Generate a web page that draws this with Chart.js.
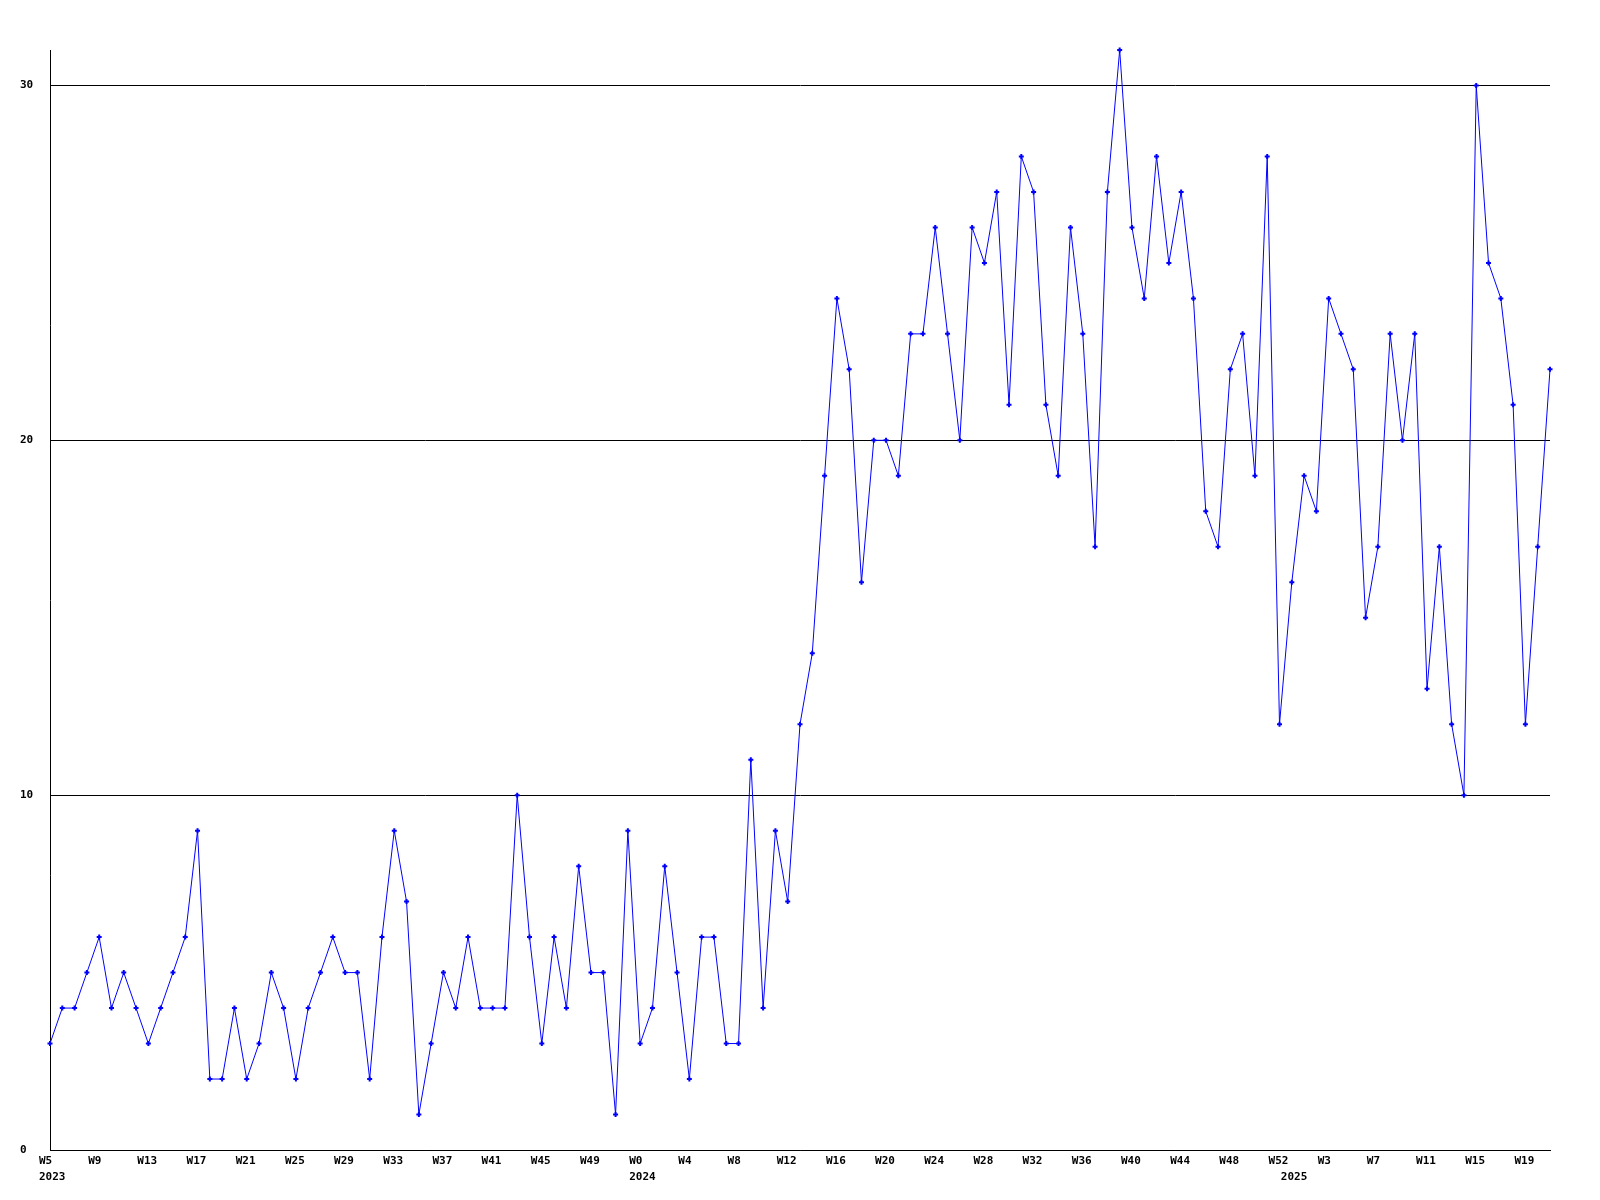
<!DOCTYPE html>
<html>
<head>
<meta charset="utf-8">
<script src="https://cdn.jsdelivr.net/npm/chart.js@4.4.1/dist/chart.umd.min.js"></script>
<style>
  html, body { margin: 0; padding: 0; background: #fff; }
  #wrap { width: 1600px; height: 1200px; position: relative; }
</style>
</head>
<body>
<div id="wrap"><canvas id="chart"></canvas></div>
<script>
// week ranges covered by the chart, one entry per year
const years = [2023, 2024, 2025];
const firstWeeks = [5, 0, 0];
const lastWeeks = [52, 52, 21];

// weekly counts, 2023 W5 .. 2025 W21
const counts = [
  3, 4, 4, 5, 6, 4, 5, 4, 3, 4, 5, 6, 9, 2, 2, 4, 2, 3, 5, 4, 2, 4, 5, 6, 5, 5, 2, 6, 9, 7, 1,
  3, 5, 4, 6, 4, 4, 4, 10, 6, 3, 6, 4, 8, 5, 5, 1, 9, 3, 4, 8, 5, 2, 6, 6, 3, 3, 11, 4, 9, 7,
  12, 14, 19, 24, 22, 16, 20, 20, 19, 23, 23, 26, 23, 20, 26, 25, 27, 21, 28, 27, 21, 19, 26, 23, 17, 27, 31, 26, 24, 28,
  25, 27, 24, 18, 17, 22, 23, 19, 28, 12, 16, 19, 18, 24, 23, 22, 15, 17, 23, 20, 23, 13, 17, 12, 10, 30, 25, 24, 21, 12, 17, 22,
];

const yTicks = [0, 10, 20, 30];
const LABEL_EVERY = 4;

const weeks = [];
years.forEach((year, k) => {
  for (let w = firstWeeks[k]; w <= lastWeeks[k]; w++) weeks.push({ year, week: w });
});
const labels = weeks.map((d) => d.year + '-W' + d.week);

const FONT = { family: "'DejaVu Sans Mono', monospace", size: 11, weight: 'bold', lineHeight: 16 / 11 };

function weekTick(value, index) {
  const d = weeks[index];
  const lines = [index % LABEL_EVERY === 0 ? 'W' + d.week : ''];
  if (index === 0 || weeks[index - 1].year !== d.year) lines.push(String(d.year));
  return lines.length > 1 ? lines : lines[0];
}

new Chart(document.getElementById('chart'), {
  type: 'line',
  data: {
    labels,
    datasets: [{
      data: counts,
      borderColor: '#0000ff',
      backgroundColor: '#0000ff',
      borderWidth: 1,
      tension: 0,
      fill: false,
      pointStyle: 'cross',
      pointRadius: 2.5,
      pointBorderWidth: 2,
      pointBorderColor: '#0000ff',
      clip: false,
    }],
  },
  options: {
    responsive: true,
    maintainAspectRatio: false,
    animation: false,
    layout: { padding: { top: 50, right: 50, left: 20, bottom: 0 } },
    plugins: {
      legend: { display: false },
      tooltip: { enabled: false },
    },
    scales: {
      x: {
        type: 'category',
        offset: false,
        grid: { display: false, drawTicks: false },
        border: { display: true, color: '#000', width: 1 },
        ticks: {
          autoSkip: false,
          maxRotation: 0,
          minRotation: 0,
          align: 'start',
          labelOffset: -11,
          padding: 3,
          color: '#000',
          font: FONT,
          callback: weekTick,
        },
        afterFit: (scale) => { scale.height = 50; },
      },
      y: {
        min: 0,
        max: Math.max(...counts),
        grid: { color: '#000', lineWidth: 1, drawTicks: false },
        border: { display: true, color: '#000', width: 1 },
        afterBuildTicks: (scale) => { scale.ticks = yTicks.map((v) => ({ value: v })); },
        ticks: {
          crossAlign: 'far',
          color: '#000',
          font: FONT,
        },
        afterFit: (scale) => { scale.width = 30; },
      },
    },
  },
});
</script>
</body>
</html>
